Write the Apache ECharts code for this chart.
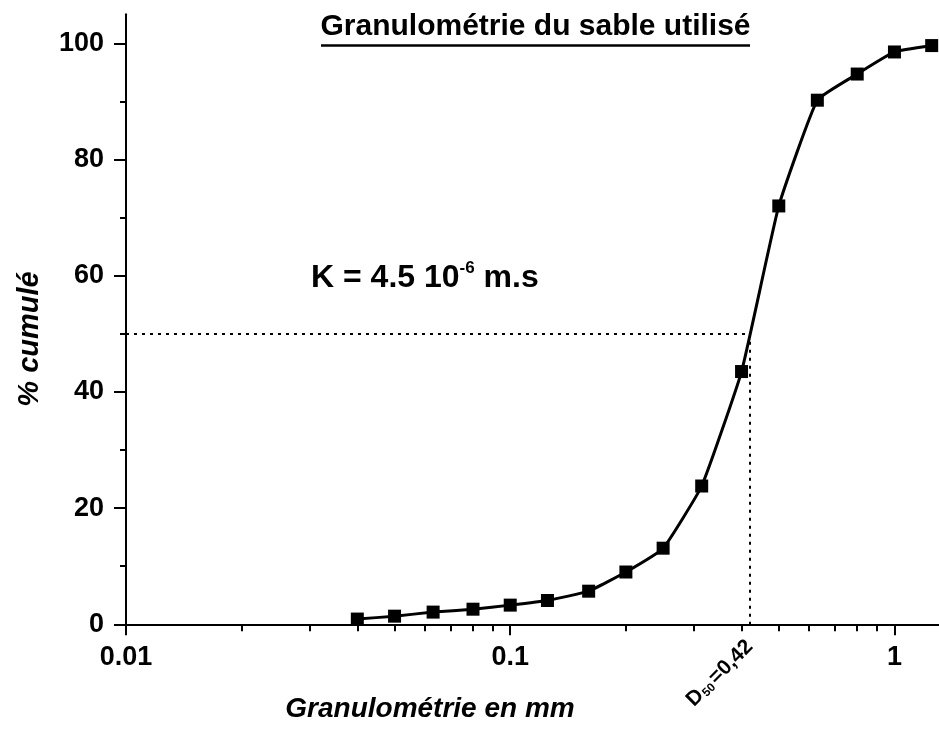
<!DOCTYPE html>
<html><head><meta charset="utf-8">
<script src="https://cdn.jsdelivr.net/npm/echarts@6/dist/echarts.min.js"></script>
<style>html,body{margin:0;padding:0;background:#fff}#c{width:939px;height:733px}</style>
</head><body><div id="c"></div>
<script>
// ---- data ----
const sieveSizes = [0.04, 0.05, 0.063, 0.08, 0.1, 0.125, 0.16, 0.2, 0.25, 0.315, 0.4, 0.5, 0.63, 0.8, 1, 1.25];
const cumulativePercent = [0.9, 1.4, 2.1, 2.6, 3.3, 4.1, 5.7, 9.0, 13.1, 23.8, 43.5, 72.0, 90.2, 94.7, 98.5, 99.6];
const xMajorTicks = [0.01, 0.1, 1];
const xMinorTicks = [0.02, 0.03, 0.04, 0.05, 0.06, 0.07, 0.08, 0.09, 0.2, 0.3, 0.4, 0.5, 0.6, 0.7, 0.8, 0.9];
const yMajorTicks = [0, 20, 40, 60, 80, 100];
const yMinorTicks = [10, 30, 50, 70, 90];
const d50 = 0.42;
const d50Percent = 50;
const titleText = 'Granulométrie du sable utilisé';
const xName = 'Granulométrie en mm';
const yName = '% cumulé';

const FONT = '"Liberation Sans", Arial, sans-serif';
const chart = echarts.init(document.getElementById('c'), null, {renderer: 'canvas'});

const fmt = v => String(parseFloat(Number(v).toPrecision(6)));

const baseX = {
  type: 'log', logBase: 10, min: 0.01, max: 1.306, position: 'bottom', offset: 0,
  splitLine: {show: false}, minorTick: {show: false}, minorSplitLine: {show: false}
};
const baseY = {
  type: 'value', min: 0, max: 105, position: 'left', offset: 0,
  splitLine: {show: false}, minorSplitLine: {show: false}
};

chart.setOption({
  animation: false,
  backgroundColor: '#fff',
  grid: {left: 126, right: 0, top: 14.2, bottom: 108.7, containLabel: false},
  xAxis: [
    Object.assign({}, baseX, {
      axisLine: {show: true, lineStyle: {color: '#000', width: 2}},
      axisTick: {show: true, inside: false, length: 11, lineStyle: {color: '#000', width: 2}, customValues: xMajorTicks},
      axisLabel: {show: true, customValues: xMajorTicks, formatter: fmt, margin: 20,
        color: '#000', fontFamily: FONT, fontWeight: 'bold', fontSize: 27}
    }),
    Object.assign({}, baseX, {
      axisLine: {show: false},
      axisTick: {show: true, inside: false, length: 7, lineStyle: {color: '#000', width: 2}, customValues: xMinorTicks},
      axisLabel: {show: false}
    }),
    Object.assign({}, baseX, {
      axisLine: {show: false},
      axisTick: {show: false},
      axisLabel: {show: true, customValues: [d50], rotate: 45, margin: 19, color: '#000',
        formatter: v => '{a|D}{b|50}{a|=' + fmt(v).replace('.', ',') + '}',
        rich: {
          a: {fontFamily: FONT, fontWeight: 'bold', fontSize: 21, color: '#000'},
          b: {fontFamily: FONT, fontWeight: 'bold', fontSize: 12, color: '#000', verticalAlign: 'bottom', padding: [9, 2, 0, 1]}
        }}
    })
  ],
  yAxis: [
    Object.assign({}, baseY, {
      axisLine: {show: true, lineStyle: {color: '#000', width: 2}},
      axisTick: {show: true, inside: false, length: 12, lineStyle: {color: '#000', width: 2}, customValues: yMajorTicks},
      axisLabel: {show: true, customValues: yMajorTicks, margin: 22, color: '#000',
        fontFamily: FONT, fontWeight: 'bold', fontSize: 27}
    }),
    Object.assign({}, baseY, {
      axisLine: {show: false},
      axisTick: {show: true, inside: false, length: 6, lineStyle: {color: '#000', width: 2}, customValues: yMinorTicks},
      axisLabel: {show: false}
    })
  ],
  series: [{
    type: 'line',
    xAxisIndex: 0, yAxisIndex: 0,
    data: sieveSizes.map((x, i) => [x, cumulativePercent[i]]),
    smooth: 0.12,
    symbol: 'rect', symbolSize: 13,
    lineStyle: {color: '#000', width: 3},
    itemStyle: {color: '#000'},
    z: 3,
    markLine: {
      silent: true, symbol: 'none', z: 2,
      label: {show: false},
      lineStyle: {color: '#000', width: 2, type: [3, 5]},
      data: [
        [{coord: [0.01, d50Percent]}, {coord: [d50, d50Percent]}],
        [{coord: [d50, d50Percent]}, {coord: [d50, 0]}]
      ]
    }
  }],
  graphic: [
    {type: 'text', x: 535.5, y: 27, style: {text: titleText, fill: '#000',
      font: 'bold 30px ' + FONT, align: 'center', verticalAlign: 'middle'}},
    {type: 'line', shape: {x1: 321, y1: 45.5, x2: 750, y2: 45.5}, style: {stroke: '#000', lineWidth: 2.5}},
    {type: 'text', x: 311, y: 278, style: {
      text: '{m|K = 4.5 10}{s|-6}{m| m.s}', align: 'left', verticalAlign: 'middle',
      rich: {
        m: {fontFamily: FONT, fontWeight: 'bold', fontSize: 32, fill: '#000', lineHeight: 36},
        s: {fontFamily: FONT, fontWeight: 'bold', fontSize: 17, fill: '#000', verticalAlign: 'top', lineHeight: 36}
      }}},
    {type: 'text', x: 30, y: 339, rotation: Math.PI / 2, style: {text: yName, fill: '#000',
      font: 'italic bold 29px ' + FONT, align: 'center', verticalAlign: 'middle'}},
    {type: 'text', x: 430, y: 709, style: {text: xName, fill: '#000',
      font: 'italic bold 28px ' + FONT, align: 'center', verticalAlign: 'middle'}}
  ]
});
</script>
</body></html>
